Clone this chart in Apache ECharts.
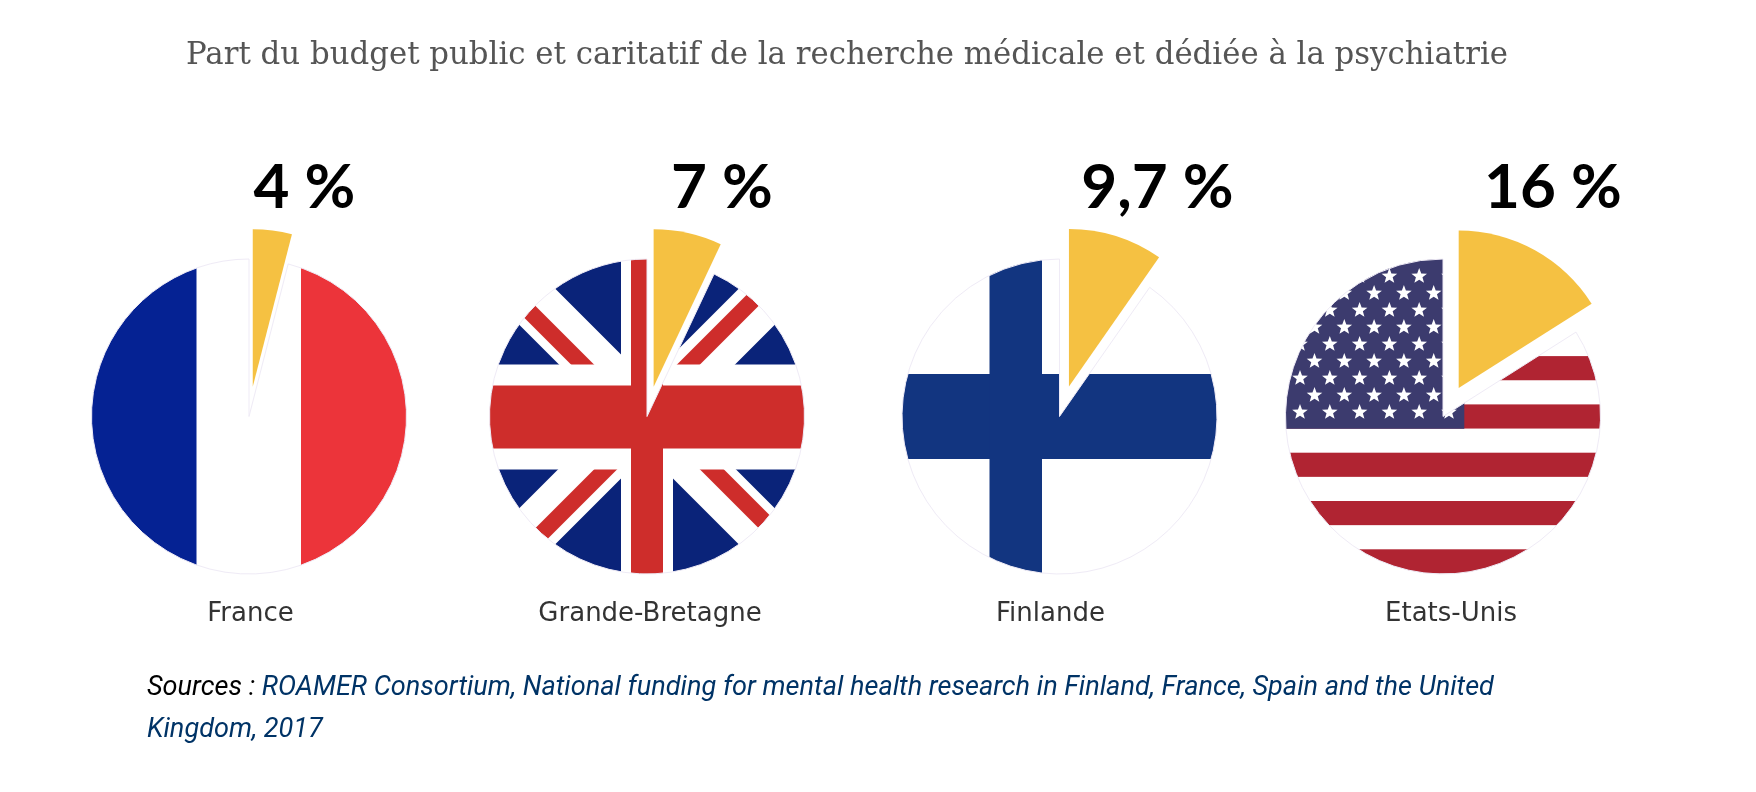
<!DOCTYPE html>
<html>
<head>
<meta charset="utf-8">
<title>Part du budget</title>
<style>
html,body{margin:0;padding:0;background:#fff;}
#main{width:1756px;height:792px;}
</style>
</head>
<body>
<div id="main"></div>
<script src="https://cdn.jsdelivr.net/npm/echarts@6/dist/echarts.min.js"></script>
<script>
var countries = ['France', 'Grande-Bretagne', 'Finlande', 'Etats-Unis'];
var shares = [4, 7, 9.7, 16];
var shareLabels = ['4 %', '7 %', '9,7 %', '16 %'];
var flags = ['fr', 'gb', 'fi', 'us'];

var titleText = 'Part du budget public et caritatif de la recherche médicale et dédiée à la psychiatrie';
var sourcePrefix = 'Sources : ';
var sourceLine1 = 'ROAMER Consortium, National funding for mental health research in Finland, France, Spain and the United';
var sourceLine2 = 'Kingdom, 2017';

// layout
var W = 1756, H = 792;
var centersX = [249, 647, 1059.5, 1443];
var centerY = 416.5;
var R = 157.5;
var offsets = [30, 30.5, 31.5, 32.5];
var shareLabelX = [304.5, 722, 1157.5, 1553];
var nameX = [250.5, 650, 1050.5, 1451];

var YELLOW = '#f5c142';

function rect(c, col, x, y, w, h) {
    c.fillStyle = col;
    c.fillRect(x, y, w, h);
}
function poly(c, col, pts) {
    c.fillStyle = col;
    c.beginPath();
    pts.forEach(function (p, i) { i ? c.lineTo(p[0], p[1]) : c.moveTo(p[0], p[1]); });
    c.closePath();
    c.fill();
}

var painters = {
    fr: function (c) {
        rect(c, '#ffffff', -170, -170, 340, 340);
        rect(c, '#052293', -170, -170, 117.5, 340);
        rect(c, '#ec343a', 52, -170, 118, 340);
    },
    gb: function (c) {
        var navy = '#0a2379', red = '#ce2d2b';
        rect(c, navy, -170, -170, 340, 340);
        c.strokeStyle = '#ffffff';
        c.lineWidth = 51;
        c.beginPath();
        c.moveTo(-200, -200); c.lineTo(200, 200);
        c.moveTo(200, -200); c.lineTo(-200, 200);
        c.stroke();
        poly(c, red, [[-224, -200], [-201, -200], [-1, 0], [-24, 0]]);
        poly(c, red, [[178, -200], [201, -200], [1, 0], [-22, 0]]);
        poly(c, red, [[0, 0], [23, 0], [-177, 200], [-200, 200]]);
        poly(c, red, [[0, 0], [24, 0], [224, 200], [200, 200]]);
        rect(c, '#ffffff', -170, -52, 340, 105);
        rect(c, '#ffffff', -26, -170, 52, 340);
        rect(c, red, -170, -31, 340, 63);
        rect(c, red, -16, -170, 32, 340);
    },
    fi: function (c) {
        var blue = '#123580';
        rect(c, '#ffffff', -170, -170, 340, 340);
        rect(c, blue, -170, -42.5, 340, 85);
        rect(c, blue, -70, -170, 52.5, 340);
    },
    us: function (c) {
        rect(c, '#ffffff', -170, -170, 340, 340);
        for (var i = 0; i < 7; i++) {
            rect(c, '#b02432', -170, -157 + i * 48.3, 340, 24.15);
        }
        rect(c, '#3c3b6e', -170, -170, 191.3, 182.3);
        // 9 rows of stars, alternating 6 and 5
        for (var r = 0; r < 9; r++) {
            var n = r % 2 ? 5 : 6;
            var x0 = r % 2 ? -128.5 : -143;
            for (var k = 0; k < n; k++) {
                star(c, x0 + k * 29.8, -4.3 - (8 - r) * 17, 8.2);
            }
        }
    }
};

function star(c, x, y, s) {
    c.fillStyle = '#ffffff';
    c.beginPath();
    for (var i = 0; i < 10; i++) {
        var rr = i % 2 ? s * 0.42 : s;
        var a = -Math.PI / 2 + i * Math.PI / 5;
        var px = x + rr * Math.cos(a), py = y + rr * Math.sin(a);
        i ? c.lineTo(px, py) : c.moveTo(px, py);
    }
    c.closePath();
    c.fill();
}

// the flag is a page sized pattern so that it lines up with the pie
function flagPattern(idx) {
    var cv = document.createElement('canvas');
    cv.width = W;
    cv.height = H;
    var c = cv.getContext('2d');
    c.translate(centersX[idx], centerY);
    painters[flags[idx]](c);
    return { image: cv, repeat: 'no-repeat' };
}

var series = countries.map(function (name, i) {
    return {
        type: 'pie',
        silent: true,
        animation: false,
        center: [centersX[i], centerY],
        radius: [0, R],
        startAngle: 90,
        clockwise: true,
        selectedMode: 'multiple',
        selectedOffset: offsets[i],
        avoidLabelOverlap: false,
        label: { show: false },
        labelLine: { show: false },
        data: [
            {
                name: shareLabels[i],
                value: shares[i],
                selected: true,
                itemStyle: { color: YELLOW }
            },
            {
                name: name,
                value: 100 - shares[i],
                itemStyle: { color: flagPattern(i), borderColor: '#efebf6', borderWidth: 1 }
            }
        ]
    };
});

var titles = [
    {
        text: titleText,
        left: 186,
        top: 40,
        padding: 0,
        textStyle: { fontFamily: 'DejaVu Serif', fontWeight: 'normal', fontSize: 30.8, color: '#555' }
    },
    {
        text: '{a|' + sourcePrefix + '}{b|' + sourceLine1 + '}\n{b|' + sourceLine2 + '}',
        left: 147,
        top: 667,
        padding: 0,
        textStyle: {
            rich: {
                a: { fontFamily: 'Roboto', fontStyle: 'italic', fontWeight: 'normal', fontSize: 27.1, lineHeight: 42, color: '#000' },
                b: { fontFamily: 'Roboto', fontStyle: 'italic', fontWeight: 'normal', fontSize: 27.1, lineHeight: 42, color: '#003366' }
            }
        }
    }
];
countries.forEach(function (name, i) {
    titles.push({
        text: shareLabels[i],
        left: shareLabelX[i],
        top: 188,
        padding: 0,
        textAlign: 'center',
        textVerticalAlign: 'middle',
        textStyle: { fontFamily: 'Lato', fontWeight: 'bold', fontSize: 62, color: '#000' }
    });
    titles.push({
        text: name,
        left: nameX[i],
        top: 614,
        padding: 0,
        textAlign: 'center',
        textVerticalAlign: 'middle',
        textStyle: { fontFamily: 'DejaVu Sans', fontWeight: 'normal', fontSize: 26, color: '#333' }
    });
});

var chart = echarts.init(document.getElementById('main'), null, { renderer: 'canvas' });
chart.setOption({
    backgroundColor: '#fff',
    animation: false,
    title: titles,
    series: series
});
</script>
</body>
</html>
